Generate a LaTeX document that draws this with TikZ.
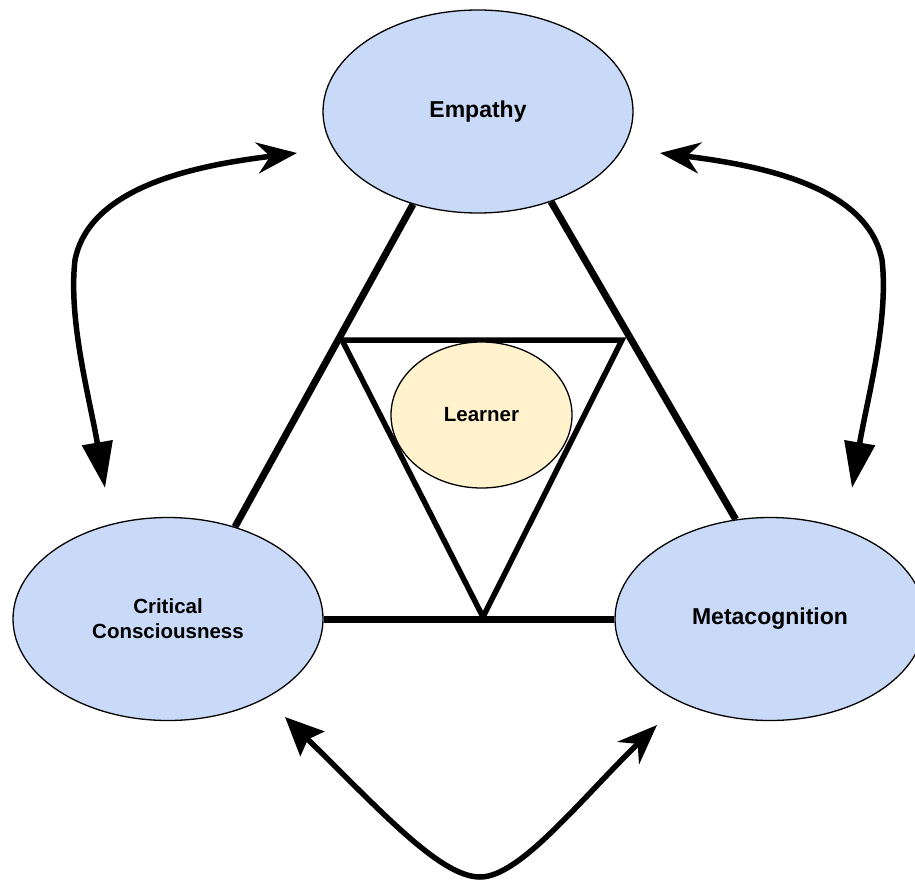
\documentclass[tikz,border=0pt]{standalone}
\usepackage{fontspec}
\setmainfont{Liberation Sans}
\usetikzlibrary{shapes.geometric,arrows.meta}
\definecolor{bluefill}{HTML}{C9DAF8}
\definecolor{yellowfill}{HTML}{FFF2CC}
\begin{document}
\begin{tikzpicture}[x=1pt,y=-1pt,
  concept/.style={ellipse, draw=black, line width=1.3pt, fill=bluefill,
    minimum width=310pt, minimum height=203pt, inner sep=0pt,
    font=\fontsize{23}{28}\selectfont\bfseries, align=center},
  learnerbox/.style={ellipse, draw=black, line width=1.3pt, fill=yellowfill,
    minimum width=181pt, minimum height=146pt, inner sep=0pt,
    font=\fontsize{20.5}{25}\selectfont\bfseries, align=center},
  thickline/.style={line width=7pt},
  triline/.style={line width=5.5pt, line join=miter},
  curvearrow/.style={line width=5.5pt},
  tritip/.tip={Triangle[length=46pt,width=30pt]},
  notchtip/.tip={Stealth[length=40pt,width=31pt,inset=13pt]},
  fattip/.tip={Stealth[length=38pt,width=34pt,inset=6pt]}]
\useasboundingbox (0,0) rectangle (915,880);

% inner triangle
\coordinate (tl) at (342,340);
\coordinate (tr) at (622,340);
\coordinate (tb) at (483,617);
\draw[triline] (tl) -- (tr) -- (tb) -- cycle;

% nodes
\node[concept] (emp) at (478,111.5) {Empathy};
\node[concept, font=\fontsize{20.5}{25}\selectfont\bfseries] (crit) at (168,619) {Critical\\Consciousness};
\node[concept] (meta) at (770,619) {Metacognition};
\node[learnerbox] (learn) at (481.5,415) {Learner};

% outer triangle lines
\draw[thickline] (emp.235) -- (crit.54.5);
\draw[thickline] (emp.309.5) -- (meta.109.5);
\draw[thickline] (crit.east) -- (meta.west);

% curved double arrows
\coordinate (a1s) at (297,153);
\coordinate (a1e) at (105,488);
\draw[curvearrow, {notchtip}-{tritip}] (a1s) .. controls (200,165) and (90,185) .. (75,260)
  .. controls (68,320) and (90,400) .. (a1e);

\coordinate (a2s) at (660,153);
\coordinate (a2e) at (852,488);
\draw[curvearrow, {notchtip}-{tritip}] (a2s) .. controls (757,165) and (867,185) .. (882,260)
  .. controls (889,320) and (867,400) .. (a2e);

\coordinate (a3s) at (285,717);
\coordinate (a3e) at (657,725);
\draw[curvearrow, {fattip}-{notchtip}] (a3s) .. controls (380,810) and (440,877) .. (480,877)
  .. controls (520,877) and (580,800) .. (a3e);
\end{tikzpicture}
\end{document}
